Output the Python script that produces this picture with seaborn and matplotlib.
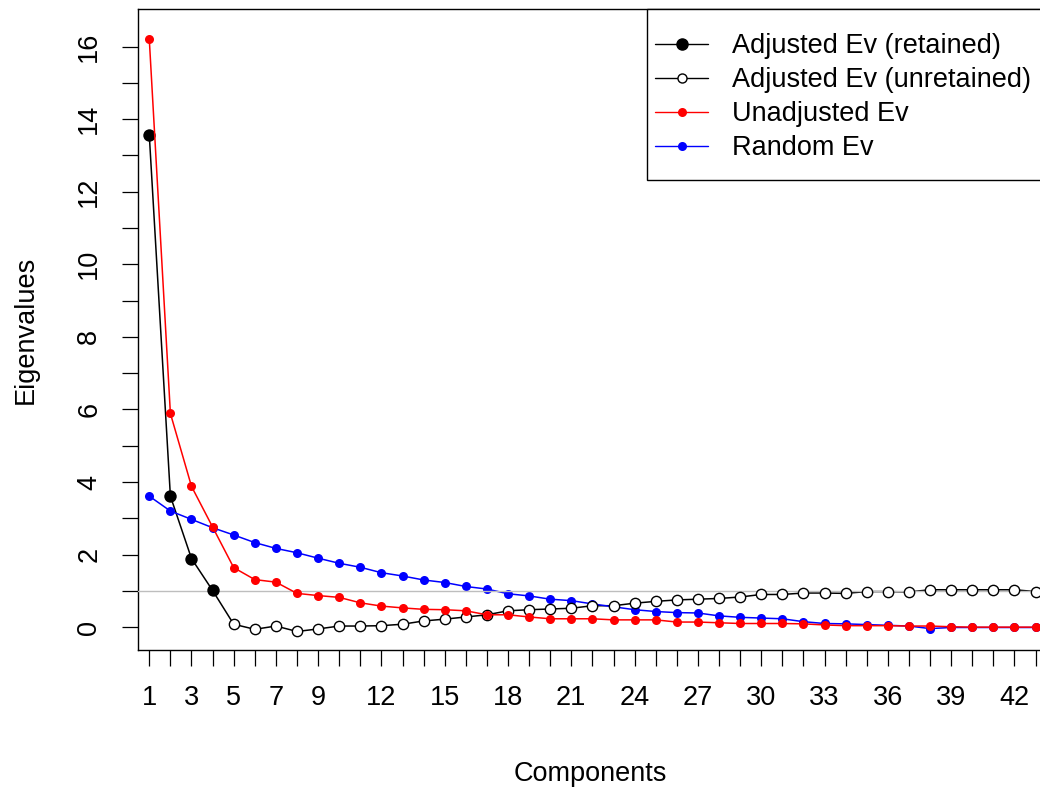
import matplotlib
matplotlib.use("Agg")
import matplotlib.pyplot as plt
from matplotlib.lines import Line2D
from matplotlib.patches import Rectangle
import seaborn as sns

# parallel analysis: eigenvalues per component
components = list(range(1, 44))
n_retained = 4
adjusted_ev = [13.56, 3.61, 1.89, 1.01, 0.08, -0.06, 0.03, -0.12, -0.05, 0.03,
               0.03, 0.04, 0.08, 0.17, 0.22, 0.28, 0.34, 0.45, 0.48, 0.50,
               0.52, 0.59, 0.59, 0.66, 0.71, 0.75, 0.77, 0.79, 0.83, 0.90,
               0.90, 0.94, 0.94, 0.93, 0.98, 0.98, 0.97, 1.03, 1.03, 1.03,
               1.03, 1.03, 0.98]
unadjusted_ev = [16.20, 5.89, 3.88, 2.76, 1.64, 1.31, 1.24, 0.93, 0.87, 0.82,
                 0.67, 0.58, 0.53, 0.49, 0.48, 0.45, 0.34, 0.34, 0.28, 0.23,
                 0.23, 0.23, 0.20, 0.20, 0.20, 0.14, 0.14, 0.12, 0.10, 0.10,
                 0.10, 0.09, 0.06, 0.04, 0.04, 0.04, 0.03, 0.03, 0.01, 0.00,
                 0.00, 0.00, 0.00]
random_ev = [3.61, 3.20, 2.97, 2.74, 2.54, 2.33, 2.17, 2.05, 1.90, 1.76,
             1.65, 1.50, 1.41, 1.30, 1.23, 1.12, 1.05, 0.92, 0.86, 0.77,
             0.73, 0.64, 0.56, 0.48, 0.43, 0.40, 0.39, 0.31, 0.27, 0.25,
             0.23, 0.15, 0.10, 0.09, 0.07, 0.05, 0.03, -0.04, -0.01, -0.01,
             -0.01, -0.01, -0.01]
x_labels = [1, 3, 5, 7, 9, 12, 15, 18, 21, 24, 27, 30, 33, 36, 39, 42]
legend_labels = ["Adjusted Ev (retained)", "Adjusted Ev (unretained)",
                 "Unadjusted Ev", "Random Ev"]

sns.set_style("ticks")
plt.rcParams["font.family"] = ["Liberation Sans", "DejaVu Sans"]
plt.rcParams["text.color"] = "black"
plt.rcParams["axes.labelcolor"] = "black"
fs = 19.5

fig = plt.figure(figsize=(10.4, 7.87), dpi=100)
ax = fig.add_axes([0.133, 0.1741, 0.870, 0.8141])

sns.lineplot(x=components, y=adjusted_ev, color="black", lw=1.1, ax=ax, zorder=2)
sns.lineplot(x=components, y=random_ev, color="#0000FF", lw=1.1, marker="o",
             markersize=6.5, markeredgewidth=0, ax=ax, zorder=2.5)
ax.axhline(1, color="#BEBEBE", lw=1, zorder=2.7)
sns.scatterplot(x=components[:n_retained], y=adjusted_ev[:n_retained],
                color="black", s=80, linewidth=0, ax=ax, zorder=3)
sns.scatterplot(x=components[n_retained:], y=adjusted_ev[n_retained:],
                facecolor="white", edgecolor="black", s=55, linewidth=1,
                ax=ax, zorder=3)
sns.lineplot(x=components, y=unadjusted_ev, color="#FF0000", lw=1.1, marker="o",
             markersize=6.5, markeredgewidth=0, ax=ax, zorder=4)

ax.set_xlim(0.48, 43.36)
ax.set_ylim(-0.63, 17.03)

ax.set_xticks(components)
ax.set_xticklabels([str(c) if c in x_labels else "" for c in components])
yt = list(range(0, 17))
ax.set_yticks(yt)
ax.set_yticklabels([str(v) if v % 2 == 0 else "" for v in yt],
                   rotation=90, va="center")
ax.tick_params(length=11.5, width=0.9, color="black", labelsize=fs,
               labelcolor="black")
ax.tick_params(axis="x", pad=14)
ax.tick_params(axis="y", pad=14.5)

for side in ["left", "bottom", "top"]:
    ax.spines[side].set_color("black")
    ax.spines[side].set_linewidth(1)
ax.spines["right"].set_visible(False)

ax.set_xlabel("Components", fontsize=fs, labelpad=36)
ax.set_ylabel("Eigenvalues", fontsize=fs, labelpad=27)

handles = [
    Line2D([], [], color="black", lw=1, marker="o", markersize=8),
    Line2D([], [], color="black", lw=1, marker="o", markersize=6.5,
           markerfacecolor="white", markeredgewidth=1),
    Line2D([], [], color="#FF0000", lw=1, marker="o", markersize=6.5,
           markeredgewidth=0),
    Line2D([], [], color="#0000FF", lw=1, marker="o", markersize=6.5,
           markeredgewidth=0),
]
ax.add_patch(Rectangle((0.5623, 0.7336), 0.46, 0.2664, transform=ax.transAxes,
                       facecolor="white", edgecolor="black", lw=1,
                       clip_on=False, zorder=5))
ax.legend(handles, legend_labels, loc="upper left",
          bbox_to_anchor=(0.5711, 0.9630), frameon=False, fontsize=fs,
          borderpad=0, borderaxespad=0, handlelength=1.96,
          handletextpad=0.88, labelspacing=0.30).set_zorder(6)

fig.savefig("out.png", dpi=100)
